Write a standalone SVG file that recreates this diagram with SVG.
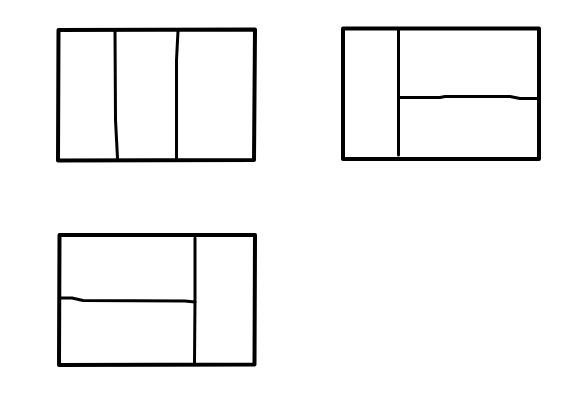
<svg xmlns="http://www.w3.org/2000/svg" width="563" height="410" viewBox="0 0 563 410">
<style>
.o{fill:none;stroke:#000;stroke-width:4;stroke-linecap:round;stroke-linejoin:round}
.i{fill:none;stroke:#000;stroke-width:3;stroke-linecap:round;stroke-linejoin:round}
</style>
<rect width="563" height="410" fill="#fff"/>
<g id="layout1">
<path class="o" d="M58.5,30 L255,29.5 L254,160 L58,160.5 Z"/>
<path class="i" d="M115,31 L115.5,120 L117.5,158"/>
<path class="i" d="M178,31 L176.5,60 L176.5,158"/>
</g>
<g id="layout2">
<path class="o" d="M343,28.5 L539,28.5 L539,159 L343,159 Z"/>
<path class="i" d="M398.5,30 L398.5,155"/>
<path class="i" d="M399,97.5 L440,97.5 L445,96.5 L510,96.5 L520,98.5 L538,98.5"/>
</g>
<g id="layout3">
<path class="o" d="M59.5,235 L255,235 L254.5,364.5 L59,365 Z"/>
<path class="i" d="M195,238 L195,300 L194.5,363"/>
<path class="i" d="M61,298 L72,298 L83,300.5 L185,301 L195,302"/>
</g>
</svg>
